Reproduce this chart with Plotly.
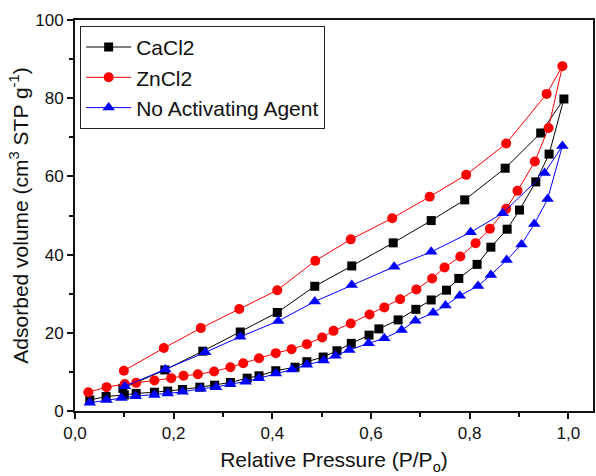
import plotly.graph_objects as go

# CaCl2 (adsorption then desorption)
ca_x = [0.030, 0.063, 0.100, 0.124, 0.161, 0.188, 0.218, 0.253, 0.283, 0.315, 0.349, 0.373,
        0.407, 0.446, 0.470, 0.503, 0.531, 0.560, 0.596, 0.616, 0.655, 0.691, 0.722, 0.753,
        0.778, 0.815, 0.843, 0.876, 0.901, 0.934, 0.961, 0.991,
        0.944, 0.872, 0.790, 0.722, 0.645, 0.561, 0.486, 0.410, 0.335, 0.259, 0.182, 0.097]
ca_y = [2.8, 3.7, 4.1, 4.5, 4.8, 5.1, 5.5, 6.1, 6.6, 7.3, 8.4, 9.0,
        10.3, 11.2, 12.6, 13.8, 15.4, 17.3, 19.4, 21.0, 23.3, 26.0, 28.4, 30.9,
        33.9, 37.5, 41.9, 46.5, 51.4, 58.6, 65.7, 79.8,
        71.1, 62.1, 54.0, 48.7, 43.0, 37.1, 31.9, 25.2, 20.2, 15.3, 10.5, 5.8]

# ZnCl2
zn_x = [0.027, 0.064, 0.101, 0.124, 0.161, 0.195, 0.220, 0.249, 0.282, 0.315, 0.341, 0.373,
        0.407, 0.439, 0.470, 0.501, 0.524, 0.559, 0.597, 0.627, 0.659, 0.692, 0.724, 0.749,
        0.781, 0.812, 0.841, 0.874, 0.897, 0.932, 0.960, 0.988,
        0.956, 0.874, 0.793, 0.719, 0.643, 0.559, 0.487, 0.410, 0.333, 0.255, 0.180, 0.099]
zn_y = [4.8, 6.1, 6.9, 7.2, 7.8, 8.4, 9.0, 9.4, 10.1, 11.2, 12.2, 13.5,
        14.8, 15.8, 17.1, 18.8, 20.5, 22.4, 24.7, 26.5, 28.6, 31.1, 33.9, 36.7,
        39.5, 42.9, 46.6, 51.7, 56.3, 63.8, 72.4, 88.2,
        81.1, 68.4, 60.4, 54.8, 49.3, 43.9, 38.4, 30.9, 26.1, 21.2, 16.1, 10.3]

# No activating agent
na_x = [0.030, 0.064, 0.094, 0.123, 0.161, 0.188, 0.218, 0.255, 0.286, 0.315, 0.346, 0.373,
        0.407, 0.440, 0.470, 0.504, 0.528, 0.556, 0.595, 0.627, 0.662, 0.690, 0.726, 0.751,
        0.780, 0.817, 0.843, 0.875, 0.905, 0.931, 0.958, 0.988,
        0.952, 0.867, 0.802, 0.722, 0.647, 0.561, 0.486, 0.412, 0.335, 0.264, 0.183, 0.101]
na_y = [2.1, 2.8, 3.3, 3.8, 4.1, 4.5, 4.9, 5.7, 6.1, 6.9, 7.5, 8.4,
        9.6, 10.6, 11.8, 12.9, 14.1, 15.6, 17.3, 18.6, 20.7, 23.1, 25.1, 27.0,
        29.5, 32.0, 34.8, 38.6, 42.6, 47.8, 54.2, 67.8,
        60.9, 50.6, 45.7, 40.7, 36.9, 32.2, 28.0, 23.0, 19.0, 15.0, 10.6, 6.3]

x_ticks = [0.0, 0.2, 0.4, 0.6, 0.8, 1.0]
y_ticks = [0, 20, 40, 60, 80, 100]

FONT = "Liberation Sans, Arial, sans-serif"

fig = go.Figure()
fig.add_trace(go.Scatter(x=ca_x, y=ca_y, mode="lines+markers", name="CaCl2",
                         line=dict(color="#000000", width=1),
                         marker=dict(symbol="square", size=9, color="#000000")))
fig.add_trace(go.Scatter(x=zn_x, y=zn_y, mode="lines+markers", name="ZnCl2",
                         line=dict(color="#ff0000", width=1),
                         marker=dict(symbol="circle", size=10, color="#ff0000")))
fig.add_trace(go.Scatter(x=na_x, y=na_y, mode="lines+markers", name="No Activating Agent",
                         line=dict(color="#0000ff", width=1),
                         marker=dict(symbol="triangle-up", size=11, color="#0000ff")))

fig.update_layout(
    width=596, height=476,
    margin=dict(l=75, r=1, t=20, b=65),
    paper_bgcolor="white", plot_bgcolor="white",
    separators=", ",
    font=dict(family=FONT, color="#111111"),
    showlegend=True,
    legend=dict(x=0.01, y=0.985, xanchor="left", yanchor="top",
                bgcolor="white", bordercolor="#222222", borderwidth=1,
                font=dict(size=21, family=FONT, color="#111111"),
                itemwidth=45, tracegroupgap=0),
    xaxis=dict(range=[0, 1.05], tickvals=x_ticks, tickformat=".1f",
               showgrid=False, zeroline=False,
               showline=True, linecolor="#111111", linewidth=2, mirror=True,
               ticks="outside", ticklen=6, tickwidth=1.5, tickcolor="#111111",
               minor=dict(dtick=0.1, ticks="outside", ticklen=4, tickwidth=1.5, tickcolor="#111111"),
               tickfont=dict(size=17, family=FONT, color="#111111"),
               title=dict(text="Relative Pressure (P/P<sub>o</sub>)",
                          font=dict(size=21, family=FONT, color="#111111"), standoff=10)),
    yaxis=dict(range=[0, 100], tickvals=y_ticks,
               showgrid=False, zeroline=False,
               showline=True, linecolor="#111111", linewidth=2, mirror=True,
               ticks="outside", ticklen=6, tickwidth=1.5, tickcolor="#111111",
               minor=dict(dtick=10, ticks="outside", ticklen=4, tickwidth=1.5, tickcolor="#111111"),
               tickfont=dict(size=17, family=FONT, color="#111111"),
               title=dict(text="Adsorbed volume (cm<sup>3</sup> STP g<sup>-1</sup>)",
                          font=dict(size=21, family=FONT, color="#111111"), standoff=1)),
)

fig.write_html("out.html")
